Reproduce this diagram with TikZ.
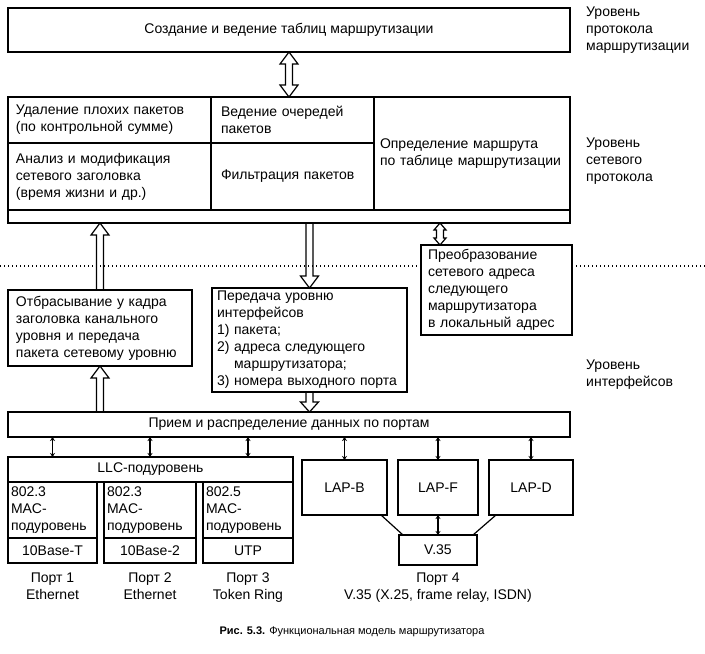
\documentclass[tikz,border=0pt]{standalone}
\usepackage{fontspec}
\setmainfont{Liberation Sans}
\usetikzlibrary{arrows.meta,positioning,calc}

\begin{document}
\begin{tikzpicture}[
    x=1pt, y=-1pt,
    font=\fontsize{14}{17}\selectfont,
    box/.style={draw, line width=1.2pt, fill=white, inner sep=0pt, outer sep=0pt, anchor=north west},
    cell/.style={box, align=left, inner xsep=#1},
    cell/.default=8pt,
    level/.style={anchor=north west, align=left, inner sep=0pt},
    port/.style={align=center, inner sep=0pt},
    link/.style={line width=1.5pt, {Stealth[length=4pt,width=5pt]}-{Stealth[length=4pt,width=5pt]}},
    tip len/.store in=\tiplen, tip wid/.store in=\tipwid,
    tip len=12pt, tip wid=9pt,
    hollow/.style={line width=1.2pt, to path={
        let \p1=(\tikztostart), \p2=(\tikztotarget), \n1={sign(\y2-\y1)} in
        (\x1-3.5pt,\y1) -- (\x1-3.5pt,\y2-\n1*\tiplen) -- (\x1-\tipwid,\y2-\n1*\tiplen) -- (\x1,\y2)
        -- (\x1+\tipwid,\y2-\n1*\tiplen) -- (\x1+3.5pt,\y2-\n1*\tiplen) -- (\x1+3.5pt,\y1)}},
    hollow both/.style={line width=1.2pt, to path={
        let \p1=(\tikztostart), \p2=(\tikztotarget), \n1={sign(\y2-\y1)} in
        (\x1,\y1) -- (\x1-\tipwid,\y1+\n1*\tiplen) -- (\x1-3.5pt,\y1+\n1*\tiplen) -- (\x1-3.5pt,\y2-\n1*\tiplen)
        -- (\x1-\tipwid,\y2-\n1*\tiplen) -- (\x1,\y2) -- (\x1+\tipwid,\y2-\n1*\tiplen) -- (\x1+3.5pt,\y2-\n1*\tiplen)
        -- (\x1+3.5pt,\y1+\n1*\tiplen) -- (\x1+\tipwid,\y1+\n1*\tiplen) -- cycle}}
]
\useasboundingbox (0,0) rectangle (705,654);

% Routing protocol level
\node[box, minimum width=562pt, minimum height=44pt] (tables) at (8,8) {Создание и ведение таблиц маршрутизации};
\node[level] (lvl1) at (586,7) {Уровень\\протокола\\маршрутизации};

% Network protocol level
\node[box, minimum width=562pt, minimum height=126pt] (net) at (8,97) {};
\node[cell, text width=187pt, minimum height=46pt] (bad) at (8,97) {Удаление плохих пакетов\\(по контрольной сумме)};
\node[cell=10pt, text width=143pt, minimum height=46pt] (queue) at (211,97) {Ведение очередей\\пакетов};
\node[cell, text width=187pt, minimum height=67pt] (hdr) at (8,143) {Анализ и модификация\\сетевого заголовка\\(время жизни и др.)};
\node[cell=10pt, text width=143pt, minimum height=67pt] (filter) at (211,143) {Фильтрация пакетов};
\node[cell=6pt, text width=184pt, minimum height=113pt] (route) at (374,97) {Определение маршрута\\по таблице маршрутизации};
\node[level] (lvl2) at (586,138) {Уровень\\сетевого\\протокола};

\draw[hollow both] (tables.south) to (net.north);

% Border between levels
\draw[line width=1.3pt, dash pattern=on 1.3pt off 2.7pt] (0,266) -- (705,266);

% Interface level
\node[cell, text width=168pt, minimum height=76pt] (drop) at (8,290) {Отбрасывание у кадра\\заголовка канального\\уровня и передача\\пакета сетевому уровню};
\node[cell=5pt, text width=185pt, minimum height=104pt] (pass) at (212,288) {Передача уровню\\интерфейсов\\1) пакета;\\2) адреса следующего\\\phantom{2) }маршрутизатора;\\3) номера выходного порта};
\node[cell=7pt, text width=137pt, minimum height=90pt] (conv) at (421,245) {Преобразование\\сетевого адреса\\следующего\\маршрутизатора\\в локальный адрес};
\coordinate (convin) at ($(conv.north west)+(19,0)$);
\node[level] (lvl3) at (586,360) {Уровень\\интерфейсов};

\draw[hollow] (drop.north) to (drop.north |- net.south);
\draw[hollow] (pass.north |- net.south) to (pass.north);
\draw[hollow both, tip len=7pt, tip wid=6pt] (convin |- net.south) to (convin);

\node[box, minimum width=562pt, minimum height=25pt] (strip) at (8,412) {Прием и распределение данных по портам};
\draw[hollow] (drop.south |- strip.north) to (drop.south);
\draw[hollow, tip len=10pt] (pass.south) to (pass.south |- strip.north);

% LAN ports
\node[box, minimum width=285pt, minimum height=25pt] (llc) at (8,457) {LLC-подуровень};
\node[cell=3pt, text width=83pt, minimum height=56pt] (mac1) at (8,482) {802.3\\MAC-\\подуровень};
\node[cell=3pt, text width=86pt, minimum height=56pt] (mac2) at (104,482) {802.3\\MAC-\\подуровень};
\node[cell=3pt, text width=84pt, minimum height=56pt] (mac3) at (203,482) {802.5\\MAC-\\подуровень};
\node[box, minimum width=89pt, minimum height=25pt] (phy1) at (8,538) {10Base-T};
\node[box, minimum width=92pt, minimum height=25pt] (phy2) at (104,538) {10Base-2};
\node[box, minimum width=90pt, minimum height=25pt] (phy3) at (203,538) {UTP};
\node[port, below=10pt of phy1] (port1) {Порт 1\\Ethernet};
\node[port, below=10pt of phy2] (port2) {Порт 2\\Ethernet};
\node[port, below=10pt of phy3] (port3) {Порт 3\\Token Ring};

% WAN port
\node[box, minimum width=85pt, minimum height=55pt] (lapb) at (302,460) {LAP-B};
\node[box, minimum width=80pt, minimum height=55pt] (lapf) at (398,460) {LAP-F};
\node[box, minimum width=84pt, minimum height=55pt] (lapd) at (489,460) {LAP-D};
\node[box, minimum width=78pt, minimum height=30pt] (v35) at (399,535) {V.35};
\node[port, below=8pt of v35] (port4) {Порт 4\\V.35 (X.25, frame relay, ISDN)};

\draw[line width=1.2pt] ($(lapb.south east)+(-6,0)$) -- ($(v35.north west)+(4,0)$);
\draw[line width=1.2pt] ($(lapd.south west)+(7,0)$) -- ($(v35.north east)+(-4,0)$);
\draw[link] (lapf.south) -- (v35.north);

\foreach \n in {mac1,mac2,mac3}
    \draw[link] (strip.south -| \n.north) -- (llc.north -| \n.north);
\foreach \n in {lapb,lapf,lapd}
    \draw[link] (strip.south -| \n.north) -- (\n.north);

\node (caption) at (352,632) {\fontsize{11}{13}\selectfont\textbf{Рис. 5.3.} Функциональная модель маршрутизатора};
\end{tikzpicture}
\end{document}
